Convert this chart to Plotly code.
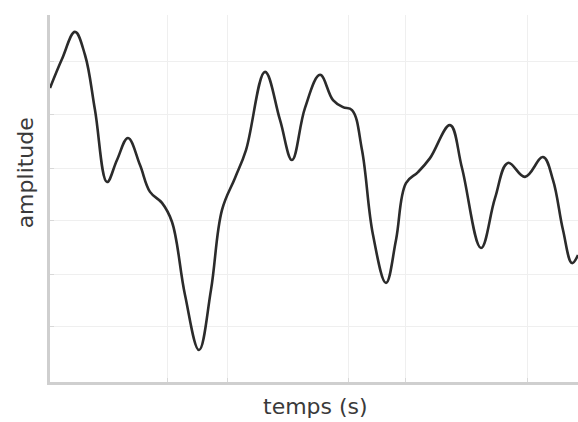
import plotly.graph_objects as go

# time (s) and amplitude values
temps = [0.00, 0.227, 0.473, 0.663, 0.852, 1.080, 1.269, 1.477, 1.705, 1.894,
         2.121, 2.311, 2.557, 2.822, 3.049, 3.258, 3.504, 3.712, 4.072, 4.356,
         4.583, 4.830, 5.114, 5.360, 5.549, 5.720, 5.909, 6.117, 6.364, 6.553,
         6.742, 6.970, 7.197, 7.576, 7.803, 8.163, 8.428, 8.674, 8.996, 9.337,
         9.527, 9.716, 9.886, 10.0]
amplitude = [8.01, 8.80, 9.54, 8.91, 7.41, 5.45, 6.05, 6.65, 5.91, 5.18,
             4.88, 4.36, 2.37, 0.87, 2.51, 4.69, 5.56, 6.32, 8.45, 7.14,
             6.05, 7.47, 8.37, 7.68, 7.49, 7.41, 6.32, 4.01, 2.70, 3.87,
             5.42, 5.72, 6.10, 7.00, 5.83, 3.65, 5.01, 5.97, 5.59, 6.13,
             5.50, 4.14, 3.24, 3.46]

x_grid = [2.23, 3.37, 5.66, 6.74, 9.05]
y_grid = [1.50, 2.94, 4.39, 5.83, 7.28, 8.72]

x_title = "temps (s)"
y_title = "amplitude"

fig = go.Figure()
fig.add_trace(go.Scatter(
    x=temps, y=amplitude, mode="lines",
    line=dict(color="#2b2b2b", width=2.6, shape="spline", smoothing=1.1),
    hoverinfo="skip", showlegend=False,
))

fig.update_layout(
    width=578, height=422,
    margin=dict(l=50, r=0, t=15, b=40),
    paper_bgcolor="white", plot_bgcolor="white",
    font=dict(family="DejaVu Sans", color="#3a3a3a"),
    xaxis=dict(range=[0, 10], tickvals=x_grid, showticklabels=False,
               showgrid=True, gridcolor="#efefef", gridwidth=1,
               ticks="inside", ticklen=4, tickcolor="#d8d8d8",
               showline=True, linecolor="#cfcfcf", linewidth=3,
               zeroline=False),
    yaxis=dict(range=[0, 10], tickvals=y_grid, showticklabels=False,
               showgrid=True, gridcolor="#efefef", gridwidth=1,
               ticks="inside", ticklen=4, tickcolor="#d8d8d8",
               showline=True, linecolor="#cfcfcf", linewidth=3,
               zeroline=False),
    annotations=[
        dict(text=x_title, xref="paper", yref="paper", x=0.502, y=-0.068,
             showarrow=False, font=dict(size=22, color="#3a3a3a"),
             xanchor="center", yanchor="middle"),
        dict(text=y_title, xref="paper", yref="paper", x=-0.047, y=0.569,
             showarrow=False, textangle=-90, font=dict(size=22, color="#3a3a3a"),
             xanchor="center", yanchor="middle"),
    ],
)

fig.write_html("out.html")
